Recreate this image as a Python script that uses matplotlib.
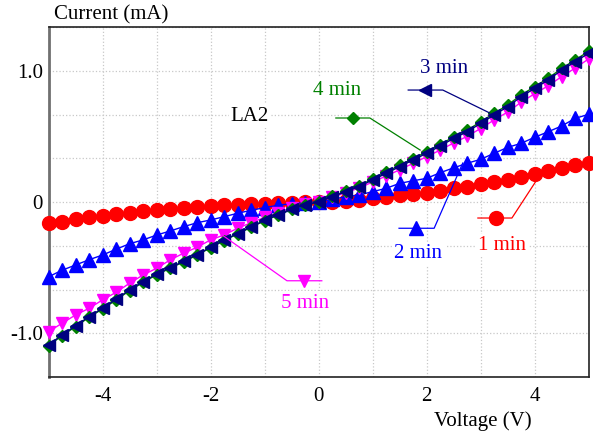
import numpy as np
import matplotlib
matplotlib.use('Agg')
import matplotlib.pyplot as plt

plt.rcParams['font.family'] = ['Liberation Serif', 'DejaVu Serif']

# 電圧 (V)
voltage = np.arange(-5, 5.01, 0.25)

# 1 min
cur_1min = [-0.163, -0.150, -0.132, -0.115, -0.104, -0.090, -0.080, -0.070, -0.061, -0.050,
             -0.045, -0.040, -0.034, -0.025, -0.020, -0.016, -0.012, -0.008, -0.004, -0.001,
             0.000, 0.003, 0.008, 0.015, 0.028, 0.040, 0.051, 0.061, 0.071, 0.086,
             0.104, 0.117, 0.134, 0.150, 0.168, 0.188, 0.213, 0.238, 0.256, 0.280, 0.300]
# 2 min
cur_2min = [-0.570, -0.520, -0.480, -0.440, -0.404, -0.360, -0.318, -0.289, -0.252, -0.221,
            -0.188, -0.158, -0.137, -0.112, -0.086, -0.063, -0.043, -0.025, -0.012, -0.004,
            0.000, 0.020, 0.040, 0.053, 0.079, 0.104, 0.142, 0.162, 0.180, 0.223,
            0.260, 0.295, 0.325, 0.371, 0.416, 0.447, 0.493, 0.535, 0.579, 0.637, 0.668]
# 3 min
cur_3min = [-1.090, -1.013, -0.944, -0.873, -0.810, -0.741, -0.670, -0.607, -0.550, -0.500,
            -0.452, -0.400, -0.345, -0.290, -0.240, -0.190, -0.140, -0.097, -0.055, -0.020,
            0.000, 0.040, 0.078, 0.117, 0.168, 0.218, 0.269, 0.320, 0.371, 0.426,
            0.485, 0.535, 0.599, 0.663, 0.726, 0.802, 0.866, 0.929, 1.005, 1.069, 1.133]
# 4 min
cur_4min = [-1.095, -1.018, -0.950, -0.878, -0.815, -0.746, -0.676, -0.612, -0.555, -0.505,
            -0.456, -0.404, -0.349, -0.294, -0.243, -0.193, -0.142, -0.099, -0.056, -0.021,
            0.000, 0.042, 0.082, 0.123, 0.176, 0.227, 0.279, 0.330, 0.382, 0.437,
            0.496, 0.547, 0.611, 0.675, 0.739, 0.815, 0.879, 0.942, 1.018, 1.082, 1.148]
# 5 min
cur_5min = [-0.988, -0.924, -0.861, -0.810, -0.746, -0.688, -0.619, -0.556, -0.505, -0.442,
            -0.390, -0.345, -0.289, -0.251, -0.200, -0.158, -0.117, -0.080, -0.045, -0.015,
            0.000, 0.035, 0.070, 0.107, 0.152, 0.198, 0.245, 0.295, 0.345, 0.395,
            0.450, 0.500, 0.560, 0.625, 0.685, 0.760, 0.825, 0.885, 0.955, 1.020, 1.090]

series = [
    ('1 min', cur_1min, '#ff0000', 'o', 10),
    ('2 min', cur_2min, '#0000ff', '^', 10),
    ('5 min', cur_5min, '#ff00ff', 'v', 9),
    ('4 min', cur_4min, '#008000', 'D', 6.5),
    ('3 min', cur_3min, '#000080', '<', 9),
]

# ラベルの位置 (テキスト, 見本マーカー, 横線の端, 引き出し線の先)
labels = {
    '1 min': ((3.40, -0.33), (3.28, -0.122), (2.95, 3.58), (4.10, 0.206)),
    '2 min': ((1.85, -0.39), (1.80, -0.20), (1.49, 2.14), (2.67, 0.297)),
    '3 min': ((2.32, 1.02), (1.97, 0.853), (1.66, 2.30), (3.17, 0.678)),
    '4 min': ((0.34, 0.853), (0.635, 0.64), (0.32, 0.95), (1.88, 0.396)),
    '5 min': ((-0.25, -0.77), (-0.27, -0.60), (-0.585, 0.06), (-1.79, -0.25)),
}

fig = plt.figure(figsize=(5.93, 4.34), dpi=100)
ax = fig.add_axes([0.0818, 0.1313, 0.9108, 0.8065])

for name, vals, col, mk, ms in series:
    ax.plot(voltage, vals, color=col, marker=mk, markersize=ms, lw=1.0,
            markeredgecolor=col, zorder=3, clip_on=False)

for name, vals, col, mk, ms in series:
    (tx, ty), (mx, my), (h0, h1), (ex, ey) = labels[name]
    # 引き出し線: 横線の片側から曲線へ
    if ex > h1:
        ax.plot([h0, h1, ex], [my, my, ey], color=col, lw=0.9, zorder=4)
    else:
        ax.plot([h1, h0, ex], [my, my, ey], color=col, lw=0.9, zorder=4)
    ax.plot([mx], [my], marker=mk, markersize=ms, color=col, zorder=5)
    ax.text(tx, ty, name, color=col, fontsize=15, ha='center', va='center', zorder=6,
            bbox=dict(facecolor='white', edgecolor='none', pad=1.5))

ax.text(-1.27, 0.655, 'LA2', color='black', fontsize=15, ha='center', va='center',
        zorder=6, bbox=dict(facecolor='white', edgecolor='none', pad=1.5))

ax.set_xlim(-5, 5)
ax.set_ylim(-4 / 3, 4 / 3)

xt = np.arange(-5, 6, 1)
ax.set_xticks(xt)
ax.set_xticklabels([str(v) if (v % 2 == 0 and abs(v) < 5) else '' for v in xt])
ax.set_xticks([1], minor=True)
yt = np.arange(-4, 5, 1) / 3
ax.set_yticks(yt)
ax.set_yticklabels(['-1.0' if i == -3 else ('0' if i == 0 else ('1.0' if i == 3 else ''))
                    for i in range(-4, 5)])

ax.tick_params(which='major', length=0, labelsize=15, pad=7)
ax.tick_params(axis='y', which='major', pad=4)
ax.tick_params(which='minor', length=5, width=1.0, direction='inout', top=True, bottom=True,
               color='#222222')
ax.grid(True, which='major', color='#c8c8c8', ls=':', lw=0.9)
ax.set_axisbelow(True)

for s in ['top', 'right', 'bottom']:
    ax.spines[s].set_color('#222222')
    ax.spines[s].set_linewidth(1.2)
ax.spines['left'].set_color('#707070')
ax.spines['left'].set_linewidth(2.0)

fig.text(0.187, 0.965, 'Current (mA)', fontsize=15, ha='center', va='center')
fig.text(0.814, 0.030, 'Voltage (V)', fontsize=15, ha='center', va='center')

fig.savefig('out.png', dpi=100)
